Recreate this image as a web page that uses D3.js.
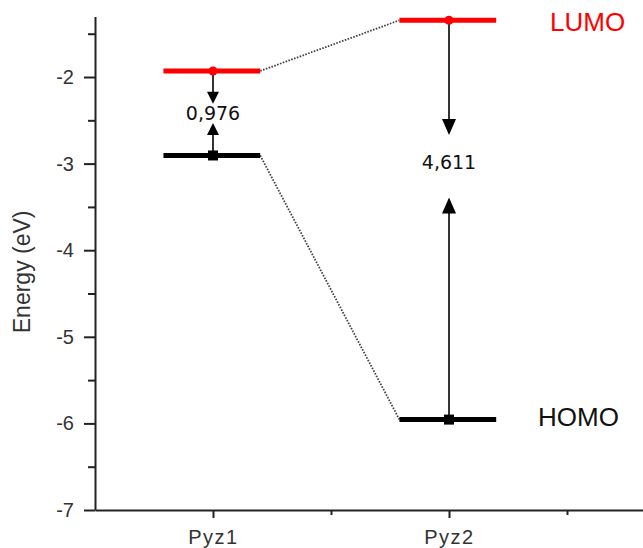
<!DOCTYPE html>
<html>
<head>
<meta charset="utf-8">
<script src="https://cdn.jsdelivr.net/npm/d3@7"></script>
<style>
  html, body { margin: 0; padding: 0; background: #fff; }
  svg { display: block; }
</style>
</head>
<body>
<svg id="chart" width="643" height="548"></svg>
<script>
// ---- data ----
const categories = ["Pyz1", "Pyz2"];
const catPos = [1, 2];
const lumo = [-1.93, -1.345];
const homo = [-2.906, -5.956];
const gapLabels = ["0,976", "4,611"];
const gapLabelAt = [-2.42, -2.98];
const downArrowTip = [-2.31, -2.67];
const upArrowTip = [-2.53, -3.39];
const yTicks = [-7, -6, -5, -4, -3, -2];
const yMinorTicks = [-6.5, -5.5, -4.5, -3.5, -2.5, -1.5];
const xMinorTicks = [1.5, 2.5];

// ---- scales ----
const svg = d3.select("#chart");
const x = d3.scaleLinear().domain([0.5, 3.0]).range([95, 685]);
const y = d3.scaleLinear().domain([-7, -1.3]).range([510, 16.4]);
const axisColor = "#222";
const tickFont = "'Liberation Sans', Arial, sans-serif";

// ---- axes ----
const yAxis = svg.append("g").attr("transform", `translate(${x(0.5)},0)`)
  .call(d3.axisLeft(y).tickValues(yTicks).tickFormat(d => String(d)).tickSize(11).tickSizeOuter(0).tickPadding(10));
const yMinor = svg.append("g").attr("transform", `translate(${x(0.5)},0)`)
  .call(d3.axisLeft(y).tickValues(yMinorTicks).tickFormat("").tickSize(7).tickSizeOuter(0));
yMinor.select(".domain").remove();

const xAxis = svg.append("g").attr("transform", `translate(0,${y(-7)})`)
  .call(d3.axisBottom(x).tickValues(catPos).tickFormat((d, i) => categories[i]).tickSize(8).tickSizeOuter(0).tickPadding(12));
const xMinor = svg.append("g").attr("transform", `translate(0,${y(-7)})`)
  .call(d3.axisBottom(x).tickValues(xMinorTicks).tickFormat("").tickSize(5).tickSizeOuter(0));
xMinor.select(".domain").remove();

[yAxis, yMinor, xAxis, xMinor].forEach(g => {
  g.selectAll(".domain").attr("stroke", axisColor).attr("stroke-width", 2);
  g.selectAll(".tick line").attr("stroke", axisColor).attr("stroke-width", 2);
  g.selectAll(".tick text").attr("fill", "#333").attr("font-family", tickFont).attr("font-size", 20);
});
xAxis.selectAll(".tick text").attr("letter-spacing", "1.5px");

// axis title
svg.append("text")
  .attr("transform", `translate(30,${y(-4.25)}) rotate(-90)`)
  .attr("text-anchor", "middle")
  .attr("font-family", tickFont)
  .attr("font-size", 23)
  .attr("fill", "#333")
  .text("Energy (eV)");

// ---- connecting dotted lines ----
const halfL = 0.21, halfR = 0.2;
function connect(vals) {
  for (let i = 0; i < vals.length - 1; i++) {
    svg.append("line")
      .attr("x1", x(catPos[i] + halfR)).attr("y1", y(vals[i]))
      .attr("x2", x(catPos[i + 1] - halfL)).attr("y2", y(vals[i + 1]))
      .attr("stroke", "#444").attr("stroke-width", 1.8)
      .attr("stroke-dasharray", "1.6,1.4");
  }
}
connect(lumo);
connect(homo);

// ---- arrows ----
const arrowSize = [[12, 12], [14, 16]];
catPos.forEach((c, i) => {
  const cx = x(c);
  const [w, h] = arrowSize[i];
  const dTip = y(downArrowTip[i]);
  svg.append("line").attr("x1", cx).attr("x2", cx).attr("y1", y(lumo[i])).attr("y2", dTip - h + 1)
    .attr("stroke", "#000").attr("stroke-width", 1.6);
  svg.append("path")
    .attr("d", `M${cx - w / 2},${dTip - h} L${cx + w / 2},${dTip - h} L${cx},${dTip} Z`)
    .attr("fill", "#000");
  const uTip = y(upArrowTip[i]);
  svg.append("line").attr("x1", cx).attr("x2", cx).attr("y1", y(homo[i])).attr("y2", uTip + h - 1)
    .attr("stroke", "#000").attr("stroke-width", 1.6);
  svg.append("path")
    .attr("d", `M${cx - w / 2},${uTip + h} L${cx + w / 2},${uTip + h} L${cx},${uTip} Z`)
    .attr("fill", "#000");
  svg.append("text")
    .attr("x", cx).attr("y", y(gapLabelAt[i]))
    .attr("text-anchor", "middle").attr("dominant-baseline", "central")
    .attr("font-family", "'DejaVu Sans', sans-serif").attr("font-size", 19)
    .attr("fill", "#111")
    .text(gapLabels[i]);
});

// ---- level bars ----
function levels(vals, color) {
  svg.selectAll(null).data(vals).enter().append("line")
    .attr("x1", (d, i) => x(catPos[i] - halfL))
    .attr("x2", (d, i) => x(catPos[i] + halfR))
    .attr("y1", d => y(d)).attr("y2", d => y(d))
    .attr("stroke", color).attr("stroke-width", 5);
}
levels(lumo, "#ff0000");
levels(homo, "#000");

svg.selectAll(null).data(lumo).enter().append("circle")
  .attr("cx", (d, i) => x(catPos[i])).attr("cy", d => y(d)).attr("r", 4.5)
  .attr("fill", "#ff0000");
svg.selectAll(null).data(homo).enter().append("rect")
  .attr("x", (d, i) => x(catPos[i]) - 5).attr("y", d => y(d) - 5)
  .attr("width", 10).attr("height", 10).attr("fill", "#000");

// ---- level names ----
svg.append("text")
  .attr("x", x(catPos[1]) + 101).attr("y", y(lumo[1]) + 2)
  .attr("dominant-baseline", "central")
  .attr("font-family", tickFont).attr("font-size", 26)
  .attr("fill", "#ff0000").text("LUMO");
svg.append("text")
  .attr("x", x(catPos[1]) + 89).attr("y", y(homo[1]) - 3)
  .attr("dominant-baseline", "central")
  .attr("font-family", tickFont).attr("font-size", 26)
  .attr("fill", "#111").text("HOMO");
</script>
</body>
</html>
